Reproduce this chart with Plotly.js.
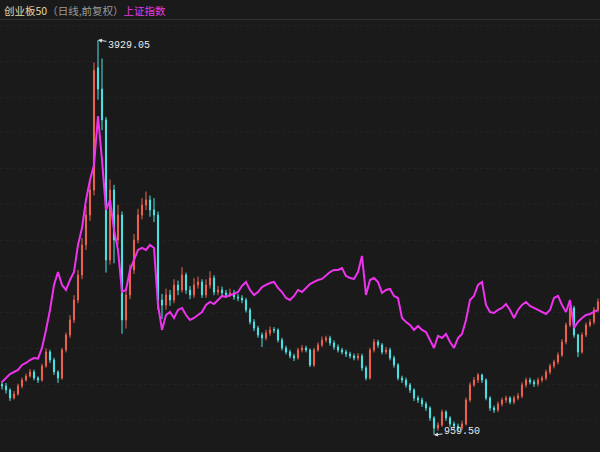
<!DOCTYPE html>
<html>
<head>
<meta charset="utf-8">
<script src="https://cdn.plot.ly/plotly-3.0.1.min.js"></script>
<style>
html,body{margin:0;padding:0;background:#1a1a1a;}
#chart{width:600px;height:452px;}
</style>
</head>
<body>
<div id="chart"></div>
<script>
// 创业板50 daily candles (前复权), sampled
const cyOpen = [1340,1327,1297,1237,1267,1327,1372,1402,1433,1387,
1372,1478,1583,1523,1433,1387,1598,1711,1824,1974,
2162,2388,2613,2801,3720,3560,3328,2275,2801,2425,
2613,1824,2012,2200,2425,2613,2688,2726,2651,2613,
1974,1936,2012,1974,2087,2049,2162,2049,2012,2087,
2109,2012,2087,2139,2034,2049,2027,2012,2027,1997,
1989,1974,1899,1809,1763,1711,1688,1726,1752,1748,
1673,1613,1583,1553,1538,1598,1613,1598,1485,1598,
1636,1673,1688,1651,1621,1598,1583,1568,1553,1538,
1553,1463,1387,1598,1658,1636,1583,1598,1538,1485,
1387,1372,1335,1297,1237,1222,1192,1162,1087,1011,
1034,1132,1087,1042,1026,1011,1042,1222,1335,1372,
1410,1372,1237,1162,1147,1192,1222,1237,1207,1237,
1252,1335,1372,1357,1342,1372,1387,1433,1478,1508,
1560,1658,1786,1914,1711,1583,1711,1786,1809,1899];

const cyClose = [1327,1297,1237,1267,1327,1372,1402,1433,1387,1372,
1478,1583,1523,1433,1387,1598,1711,1824,1974,2162,
2388,2613,2801,3700,3560,3328,2275,2801,2425,2613,
1824,2012,2200,2425,2613,2688,2726,2651,2613,1974,
1936,2012,1974,2087,2049,2162,2049,2012,2087,2109,
2012,2087,2139,2034,2049,2027,2012,2027,1997,1989,
1974,1899,1809,1763,1711,1688,1726,1748,1748,1673,
1613,1583,1553,1538,1598,1613,1598,1485,1598,1636,
1673,1688,1651,1621,1598,1583,1568,1553,1538,1553,
1463,1387,1598,1658,1636,1583,1598,1538,1485,1387,
1372,1335,1297,1237,1222,1192,1162,1087,1011,1034,
1132,1087,1042,1026,1011,1042,1222,1335,1372,1410,
1372,1237,1162,1147,1192,1222,1237,1207,1237,1252,
1335,1372,1357,1342,1372,1387,1433,1478,1508,1560,
1658,1786,1914,1711,1583,1711,1786,1809,1899,1959];

const cyHigh = [1365,1350,1310,1290,1345,1390,1420,1455,1450,1400,
1495,1610,1600,1540,1445,1615,1730,1860,2010,2200,
2440,2680,2880,3760,3929.05,3790,3350,2880,2840,2690,
2640,2060,2240,2470,2660,2740,2790,2760,2740,2640,
2020,2060,2050,2130,2120,2220,2180,2080,2140,2150,
2130,2130,2190,2160,2080,2075,2050,2060,2050,2020,
2010,1990,1915,1830,1780,1730,1750,1775,1770,1760,
1690,1630,1600,1570,1615,1635,1630,1610,1615,1655,
1700,1705,1705,1670,1640,1615,1600,1585,1570,1575,
1570,1480,1615,1680,1675,1650,1620,1615,1555,1500,
1405,1390,1350,1310,1255,1240,1210,1175,1100,1055,
1150,1145,1100,1060,1045,1065,1240,1355,1395,1425,
1420,1385,1250,1180,1210,1240,1255,1250,1255,1275,
1355,1390,1390,1375,1390,1405,1450,1495,1525,1580,
1680,1805,1950,1930,1720,1730,1805,1830,1920,1985];

const cyLow = [1300,1270,1215,1225,1255,1310,1360,1390,1370,1350,
1360,1465,1500,1410,1350,1375,1580,1690,1800,1950,
2130,2350,2570,2760,3480,3250,2180,2240,2250,2390,
1720,1760,1980,2170,2400,2580,2650,2600,2560,1900,
1830,1900,1930,1950,2010,2030,2020,1980,1990,2060,
1990,1990,2060,2010,2010,2000,1990,1995,1975,1965,
1950,1880,1790,1740,1690,1620,1670,1705,1725,1655,
1595,1565,1535,1515,1525,1580,1580,1470,1470,1585,
1620,1655,1630,1600,1580,1565,1545,1535,1520,1520,
1440,1370,1375,1580,1615,1565,1565,1520,1465,1370,
1350,1315,1275,1215,1200,1170,1140,1065,959.5,990,
1020,1065,1020,1005,990,995,1030,1205,1320,1350,
1350,1220,1140,1125,1130,1175,1200,1190,1190,1220,
1235,1315,1340,1320,1325,1355,1370,1415,1460,1490,
1545,1640,1770,1690,1545,1570,1695,1770,1790,1880];

// 上证指数 overlay (close), sampled
const shClose = [2068,2114,2161,2184,2208,2266,2289,2324,2347,2340,
2464,2674,2907,3198,3349,3198,3140,3256,3349,3664,
3862,4188,4421,4596,5166,4654,4072,4188,3839,3606,
3116,3140,3373,3489,3606,3629,3606,3664,3629,2965,
2674,2848,2883,2813,2907,2930,2848,2790,2813,2848,
2883,2965,3000,2976,3023,3070,3058,3081,3093,3116,
3186,3233,3140,3081,3116,3174,3198,3221,3233,3163,
3116,3046,3023,3070,3140,3116,3163,3209,3233,3256,
3268,3314,3349,3373,3373,3396,3303,3279,3268,3349,
3536,3081,3256,3279,3233,3105,3140,3151,3070,3046,
2813,2767,2732,2674,2720,2674,2650,2557,2464,2604,
2580,2627,2534,2464,2580,2627,2790,3023,3070,3198,
3233,2965,2883,2872,2907,2930,2976,2907,2813,2907,
2965,3000,2953,2930,2907,2883,2860,2907,3046,3070,
2965,2883,3023,2697,2767,2813,2848,2860,2883,2907];

const days = cyClose.map((_, i) => i);

const peakLabel = '3929.05';
const lowLabel = '959.50';

const candles = {
  type: 'candlestick',
  x: days, open: cyOpen, high: cyHigh, low: cyLow, close: cyClose,
  increasing: {line: {color: '#ec6450', width: 1}, fillcolor: '#ec6450'},
  decreasing: {line: {color: '#4fe3e3', width: 1}, fillcolor: '#4fe3e3'},
  whiskerwidth: 0,
  hoverinfo: 'skip',
  yaxis: 'y'
};

const shLine = {
  type: 'scatter', mode: 'lines',
  x: days, y: shClose,
  line: {color: '#ee33ee', width: 2},
  hoverinfo: 'skip',
  yaxis: 'y2'
};

const layout = {
  width: 600, height: 452,
  paper_bgcolor: '#1a1a1a', plot_bgcolor: '#1a1a1a',
  margin: {l: 0, r: 0, t: 20, b: 0},
  showlegend: false,
  boxgap: 0.6,
  xaxis: {range: [-0.5, 149.5], visible: false, rangeslider: {visible: false}, fixedrange: true},
  yaxis: {range: [831, 4079.6], showgrid: true, gridcolor: '#222222', griddash: 'dot', gridwidth: 1,
          tick0: 3771.3, dtick: 270.7, zeroline: false, showticklabels: false, ticks: '', showline: false, fixedrange: true},
  yaxis2: {range: [1252, 6285], overlaying: 'y', visible: false, showgrid: false, fixedrange: true},
  shapes: [
    {type: 'line', xref: 'paper', yref: 'paper', x0: 0, x1: 1, y0: 1.0012, y1: 1.0012,
     line: {color: '#333333', width: 1}}
  ],
  annotations: [
    {xref: 'paper', yref: 'paper', x: 0.004, y: 1.0225, xanchor: 'left', yanchor: 'middle', showarrow: false,
     text: '<span style="color:#e2dba6">创业板50</span><span style="color:#9a9a9a">（日线,前复权）</span><span style="color:#e33ae3">上证指数</span>',
     font: {family: 'Noto Sans CJK SC, sans-serif', size: 10.5}},
    {x: 24, y: 3929.05, xref: 'x', yref: 'y', text: peakLabel, showarrow: true,
     ax: 31, ay: 5, arrowhead: 2, arrowsize: 0.8, arrowwidth: 1, arrowcolor: '#e0e0e0',
     font: {family: 'Liberation Mono, monospace', size: 10, color: '#e8e8e8'}},
    {x: 108, y: 959.5, xref: 'x', yref: 'y', text: lowLabel, showarrow: true,
     ax: 28, ay: -3, arrowhead: 2, arrowsize: 0.8, arrowwidth: 1, arrowcolor: '#e0e0e0',
     font: {family: 'Liberation Mono, monospace', size: 10, color: '#e8e8e8'}}
  ]
};

Plotly.newPlot('chart', [candles, shLine], layout, {displayModeBar: false, staticPlot: true});
</script>
</body>
</html>
